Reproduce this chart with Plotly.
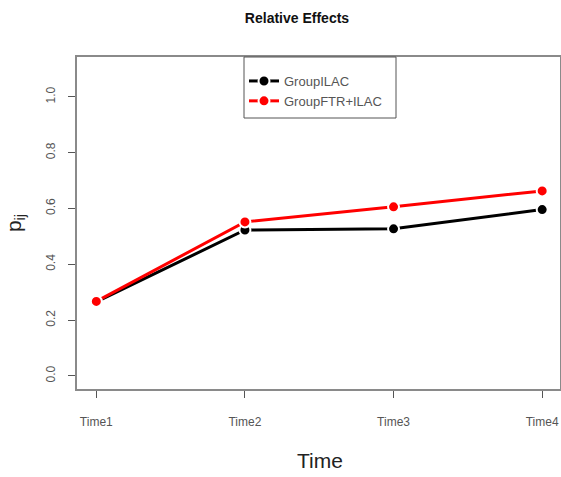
import plotly.graph_objects as go

times = [1, 2, 3, 4]
time_labels = ["Time1", "Time2", "Time3", "Time4"]
group_ilac = [0.265, 0.523, 0.527, 0.596]
group_ftr_ilac = [0.267, 0.552, 0.606, 0.663]
y_ticks = [0.0, 0.2, 0.4, 0.6, 0.8, 1.0]

W, H = 561, 477
L, R, T, B = 77, 1, 57, 88
PW, PH = W - L - R, H - T - B

def px_x(p):
    return (p - L) / PW

def px_y(p):
    return 1 - (p - T) / PH

fig = go.Figure()
fig.add_trace(go.Scatter(
    x=times, y=group_ilac, mode="lines+markers", name="GroupILAC",
    line=dict(color="black", width=3),
    marker=dict(color="black", size=11, line=dict(color="white", width=2)),
))
fig.add_trace(go.Scatter(
    x=times, y=group_ftr_ilac, mode="lines+markers", name="GroupFTR+ILAC",
    line=dict(color="red", width=3),
    marker=dict(color="red", size=11, line=dict(color="white", width=2)),
))

axis_col = "#8a8a8a"
fig.add_shape(type="rect", xref="paper", yref="paper",
              x0=px_x(244), x1=px_x(396), y0=px_y(118), y1=px_y(57),
              line=dict(color="#555", width=1), fillcolor="rgba(0,0,0,0)", layer="above")

fig.add_annotation(text="Time", xref="paper", yref="paper",
                   x=px_x(320), y=px_y(460), xanchor="center", yanchor="middle",
                   showarrow=False, font=dict(size=21, color="#222"))

fig.update_layout(
    width=W, height=H,
    margin=dict(l=L, r=R, t=T, b=B),
    paper_bgcolor="white", plot_bgcolor="white",
    font=dict(family="Liberation Sans, Arial", size=12, color="#444"),
    showlegend=True,
    legend=dict(
        x=px_x(244), y=px_y(66), xanchor="left", yanchor="top",
        borderwidth=0, bgcolor="rgba(0,0,0,0)",
        font=dict(size=13, color="#555"),
        tracegroupgap=0, itemwidth=30,
    ),
    xaxis=dict(
        range=[0.87, 4.12], tickvals=times, ticktext=time_labels,
        showgrid=False, zeroline=False, showline=True, mirror=True,
        linecolor=axis_col, linewidth=2, ticks="outside", ticklen=7,
        tickcolor="#555", tickfont=dict(size=12, color="#555"),
        ticklabelstandoff=14,
        automargin=False,
    ),
    yaxis=dict(
        range=[-0.047, 1.143], tickvals=y_ticks,
        ticktext=["0.0", "0.2", "0.4", "0.6", "0.8", "1.0"],
        tickangle=-90,
        showgrid=False, zeroline=False, showline=True, mirror=True,
        linecolor=axis_col, linewidth=2, ticks="outside", ticklen=7,
        tickcolor="#555", tickfont=dict(size=12, color="#555"),
        ticklabelstandoff=8,
        title=dict(text="p<sub>ij</sub>", font=dict(size=21, color="#222"), standoff=17),
        automargin=False,
    ),
    title=dict(text="<b>Relative Effects</b>", x=297 / W, xanchor="center",
               y=1 - 18 / H, yanchor="middle",
               font=dict(size=14, color="#111")),
)

fig.write_html("out.html")
